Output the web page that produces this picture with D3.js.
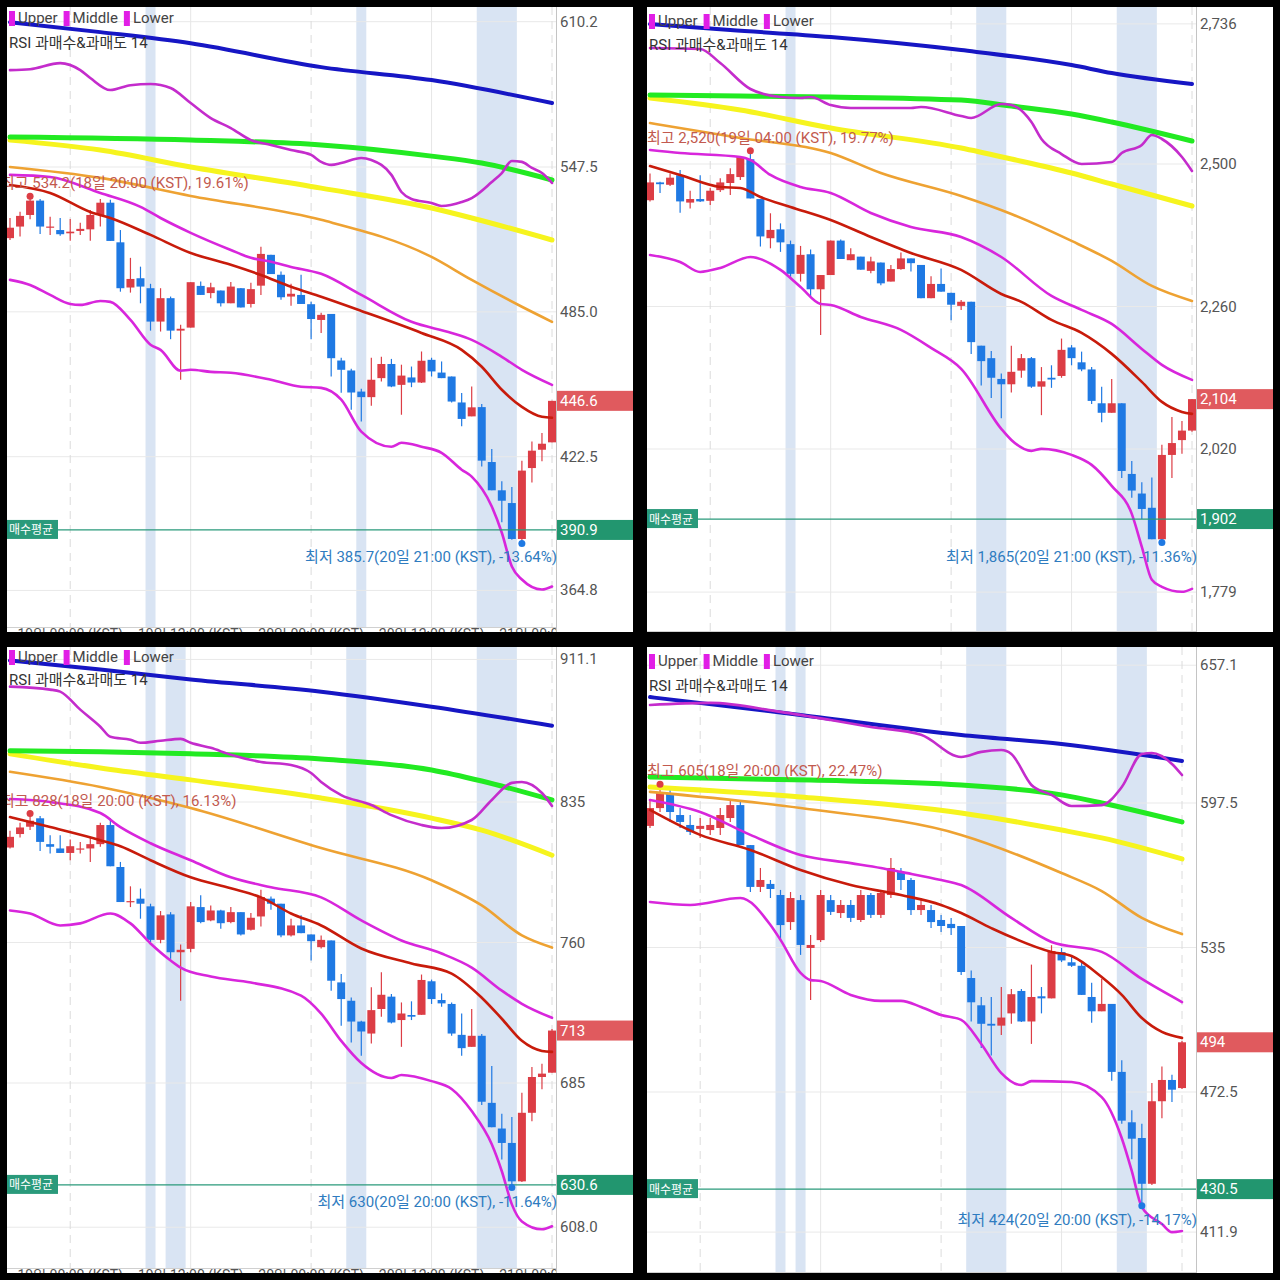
<!DOCTYPE html>
<html><head><meta charset="utf-8">
<script src="https://cdn.jsdelivr.net/npm/d3@7"></script>
<style>body{margin:0;background:#000;}svg{display:block}</style>
</head><body>
<svg id="c" width="1280" height="1280"></svg>
<script>
// ---------------- DATA ----------------
// candles: [open, high, low, close], hourly
const candlesA = [
[516.8,525.5,516.0,521.3],[521.8,528.2,517.5,526.4],[526.8,534.2,525.0,533.0],[533.0,533.7,518.6,521.8],[521.5,526.0,518.2,521.8],
[520.3,525.5,517.8,518.5],[518.9,525.1,515.7,519.6],[519.9,523.4,518.2,520.8],[520.6,529.0,515.7,526.8],[526.8,533.7,521.8,532.1],
[532.1,533.4,515.6,515.6],[515.0,520.3,493.7,495.2],[495.5,508.3,493.3,499.2],[499.5,504.5,488.7,495.9],[495.2,497.1,476.9,480.8],
[480.8,495.2,476.5,490.9],[490.9,491.6,473.2,476.9],[476.9,479.4,455.7,477.7],[478.2,497.8,478.2,497.8],[496.2,498.1,492.3,492.3],
[493.1,497.6,490.9,495.6],[494.2,494.2,487.3,488.7],[488.7,497.9,488.7,495.9],[495.2,495.3,486.9,486.9],[488.4,497.6,486.9,494.8],
[496.3,513.1,492.3,510.0],[509.6,509.6,501.3,501.3],[501.0,502.4,490.2,491.3],[491.6,497.1,487.6,492.8],[492.3,501.0,488.4,488.4],
[488.3,489.4,473.2,481.9],[481.5,484.6,475.9,483.7],[484.1,484.1,457.1,465.0],[464.0,465.2,450.1,460.0],[459.7,460.4,442.8,450.2],
[450.6,451.8,437.7,448.2],[448.2,465.2,444.5,455.7],[456.4,465.6,455.0,462.5],[462.5,464.7,452.5,452.8],[453.5,462.2,440.6,457.5],
[456.7,461.4,452.5,454.5],[454.5,467.9,454.3,463.9],[464.3,465.2,457.1,459.3],[458.8,463.6,456.4,456.4],[457.1,457.1,445.9,446.3],
[445.9,450.0,435.6,438.8],[439.9,452.8,439.9,443.8],[443.9,445.2,418.3,420.8],[420.2,425.8,408.0,408.0],[408.0,411.9,394.2,403.5],
[402.5,409.4,386.7,387.0],[387.0,420.8,385.7,416.5],[417.6,429.1,411.4,425.1],[425.5,432.7,420.5,428.1],[428.7,446.6,428.7,446.6]];
const candlesB = [
[2439,2484,2437,2469],[2469,2470,2451,2466],[2465,2484,2463,2477],[2481,2490,2418,2437],[2435,2455,2425,2441],
[2441,2481,2436,2437],[2438,2460,2431,2455],[2456,2476,2453,2469],[2468,2493,2448,2483],[2478,2513,2473,2512],
[2508,2520,2442,2442],[2441,2441,2361,2378],[2375,2417,2358,2389],[2390,2400,2352,2368],[2365,2371,2310,2315],
[2315,2362,2302,2347],[2348,2356,2277,2289],[2289,2313,2212,2313],[2313,2371,2313,2371],[2371,2373,2340,2340],
[2338,2358,2338,2348],[2344,2344,2322,2322],[2320,2344,2316,2336],[2334,2334,2296,2299],[2302,2330,2302,2323],
[2323,2351,2322,2341],[2341,2341,2319,2333],[2330,2330,2274,2274],[2274,2311,2274,2298],[2298,2324,2285,2285],
[2283,2283,2237,2263],[2261,2271,2254,2268],[2268,2268,2180,2200],[2194,2194,2127,2168],[2173,2185,2106,2140],
[2138,2147,2072,2129],[2129,2194,2115,2150],[2152,2180,2140,2173],[2173,2175,2123,2125],[2125,2158,2077,2134],
[2140,2161,2123,2137],[2143,2206,2140,2187],[2191,2195,2161,2173],[2166,2184,2151,2154],[2154,2158,2096,2101],
[2097,2125,2065,2081],[2081,2138,2081,2097],[2097,2097,1971,1983],[1978,2000,1938,1950],[1945,1964,1902,1919],
[1921,1972,1868,1868],[1868,2027,1865,2010],[2010,2074,1971,2030],[2035,2067,2012,2051],[2051,2104,2049,2104]];
const candlesC = [
[810.7,819.6,810.2,816.4],[817.9,823.9,816.1,821.4],[821.8,828.0,820.0,825.0],[826.3,827.5,808.9,813.7],[812.5,817.3,807.5,811.1],
[810.2,817.3,807.8,807.8],[807.8,815.0,803.9,811.4],[809.7,813.7,807.5,810.2],[810.2,816.1,803.0,812.5],[812.5,823.9,811.1,822.7],
[822.7,826.3,800.7,800.7],[800.3,803.0,781.6,781.6],[781.6,790.0,778.9,782.1],[783.4,788.8,772.7,780.7],[779.3,780.7,760.2,761.4],
[761.4,776.8,759.6,774.5],[775.0,776.2,751.3,754.8],[754.8,758.9,728.9,756.1],[756.6,781.6,754.8,779.3],[778.9,785.2,770.3,770.9],
[771.8,779.8,771.4,777.1],[777.1,777.5,767.3,770.3],[770.9,778.9,770.3,776.2],[776.2,776.2,763.8,764.3],[766.8,775.7,766.4,773.2],
[773.9,788.2,768.6,784.3],[783.4,784.6,777.5,780.7],[780.7,780.7,762.8,763.8],[763.8,772.7,763.2,769.1],[769.1,774.5,765.0,765.0],
[764.3,764.3,750.4,760.7],[757.5,763.8,756.8,761.4],[761.1,761.1,734.3,739.6],[738.7,743.2,715.5,729.8],[728.9,730.7,706.6,717.8],
[717.8,718.2,699.5,712.5],[711.4,736.1,706.1,723.9],[724.5,744.1,720.4,732.1],[731.1,732.5,716.8,717.3],[718.6,728.0,704.3,722.1],
[721.3,728.6,718.6,720.4],[721.4,742.9,721.4,740.0],[739.3,740.2,727.2,729.8],[729.3,732.8,725.7,727.5],[727.2,728.0,710.2,711.4],
[710.7,722.1,699.5,703.6],[704.3,724.5,704.3,710.2],[710.2,711.1,673.2,675.0],[674.4,694.1,661.4,661.4],[660.7,668.6,644.1,653.0],
[653.0,666.8,630.0,632.5],[632.5,679.8,632.1,669.1],[669.1,693.6,664.6,688.2],[688.2,695.3,681.6,690.0],[690.5,713.8,690.5,713.0]];
const candlesD = [
[587.6,598.8,586.7,595.3],[595.3,605.0,593.6,601.8],[601.8,603.1,589.3,593.6],[592.3,595.3,586.7,589.3],[588.0,592.3,583.7,585.0],
[586.3,591.0,582.4,587.6],[585.8,591.0,583.7,588.0],[586.7,595.3,583.7,592.3],[591.0,598.8,589.3,596.6],[596.6,598.8,579.3,579.3],
[579.3,579.3,559.0,561.2],[561.2,569.4,559.0,564.2],[562.5,564.2,556.4,560.3],[557.7,559.9,538.2,544.7],[546.0,559.0,542.6,556.4],
[555.5,557.7,531.8,536.1],[534.8,540.4,512.3,536.1],[538.2,559.9,537.4,557.7],[555.5,557.7,549.1,550.4],[549.9,555.5,547.8,553.4],
[553.4,555.5,546.0,547.8],[546.9,559.9,546.0,557.7],[557.7,558.6,547.8,549.1],[549.1,559.9,547.8,558.6],[557.7,573.7,556.4,569.4],
[567.7,569.4,559.9,564.2],[564.2,565.1,549.1,551.2],[551.2,556.4,549.1,553.4],[551.2,553.4,543.4,546.0],[546.9,549.1,541.7,544.3],
[545.2,547.8,540.4,543.4],[544.3,544.3,523.1,524.4],[521.8,525.0,503.0,511.3],[510.0,513.6,491.5,502.0],[502.0,513.6,488.3,501.2],
[501.2,517.9,497.2,504.7],[506.5,517.1,502.0,514.8],[516.2,517.1,502.8,503.0],[503.0,527.6,493.3,513.6],[513.9,517.9,506.5,513.0],
[513.0,536.0,513.0,533.5],[533.0,534.8,528.7,529.4],[528.6,530.9,526.6,527.1],[527.1,528.3,514.5,514.5],[513.6,519.7,502.4,507.4],
[507.4,521.5,507.4,510.6],[510.6,510.6,477.4,481.2],[481.2,486.2,458.8,460.1],[459.4,464.6,443.4,452.3],[452.6,458.8,424.0,432.8],
[432.8,476.4,432.3,468.5],[468.5,483.5,461.1,477.7],[477.7,480.0,468.2,473.5],[474.2,494.6,473.8,494.0]];

// indicator lines: [candle index, value]
const blueA = [[0,610.0],[9,605.7],[18,600.9],[31,590.6],[42,585.0],[54,575.1]];
const greenA = [[0,560.4],[18,559.1],[31,557.0],[42,552.2],[47,549.2],[54,541.9]];
const yellowA = [[0,559.1],[9,554.8],[18,547.5],[31,538.4],[42,529.8],[46,525.5],[54,516.0]];
const orangeA = [[0,547.5],[9,542.8],[18,535.0],[31,524.7],[42,508.7],[46,498.8],[51,487.2],[54,480.7]];
const middleA = [[0,539.7],[4,536.3],[8,528.1],[10,525.5],[14,518.2],[18,510.4],[22,505.3],[25,500.9],[28,495.8],[31,491.5],[35,485.4],[41,475.9],[45,468.6],[47,461.3],[49,451.4],[51,444.0],[53,439.7],[54,439.3]];
const upperA = [[0,544.1],[4,543.2],[9,536.3],[13,530.3],[15,525.5],[18,519.1],[22,511.7],[24,508.3],[26,506.6],[28,504.4],[31,501.4],[35,492.3],[40,480.7],[44,475.9],[46,472.9],[49,465.6],[51,460.0],[54,453.5]];
const lowerA = [[0,498.8],[2,496.6],[4,492.3],[6,488.4],[7,488.0],[9,489.7],[10,489.3],[12,481.5],[14,470.8],[15,468.6],[17,459.6],[18,460.0],[20,459.1],[22,458.7],[26,455.7],[29,452.7],[31,452.2],[33,447.1],[35,433.3],[38,426.8],[39,428.5],[41,426.8],[43,424.2],[45,416.9],[46,413.9],[48,401.0],[49,389.7],[50,375.1],[51,369.5],[53,365.2],[54,366.5]];
const rsiA = [[0,589.3],[2,589.7],[5,592.3],[7,589.3],[8,585.9],[10,580.7],[12,582.8],[14,583.3],[16,581.6],[18,575.1],[20,568.6],[22,564.3],[24,559.1],[26,557.0],[28,554.8],[30,552.7],[31,549.7],[32,548.4],[33,549.2],[35,551.4],[36,550.5],[38,544.1],[39,536.7],[40,533.7],[42,532.0],[43,530.7],[45,532.4],[46,534.1],[48,541.0],[49,544.9],[50,550.1],[51,549.7],[52,547.1],[53,544.9],[54,540.6]];

const blueB = [[0,2735.7],[8,2725.6],[18,2713.8],[31,2691.9],[42,2666.6],[46,2653.2],[54,2634.7]];
const greenB = [[0,2616.2],[9,2614.5],[18,2612.8],[31,2607.7],[36,2597.6],[42,2584.2],[46,2570.7],[54,2538.7]];
const yellowB = [[0,2611.1],[9,2590.9],[18,2560.6],[31,2526.9],[36,2508.4],[42,2484.8],[46,2466.3],[54,2429.3]];
const orangeB = [[0,2569.0],[9,2543.8],[18,2518.5],[23,2484.8],[31,2446.1],[36,2415.8],[42,2370.4],[46,2336.7],[50,2294.6],[54,2269.4]];
const middleB = [[0,2496.6],[3,2481.5],[7,2461.3],[9,2459.6],[11,2444.4],[14,2427.6],[18,2405.7],[22,2377.1],[26,2350.2],[31,2321.6],[35,2281.1],[37,2267.7],[40,2237.4],[43,2215.5],[46,2180.2],[49,2133.0],[51,2099.3],[53,2082.5],[54,2079.1]];
const upperB = [[0,2523.6],[3,2518.5],[9,2511.8],[10,2506.7],[12,2481.5],[15,2461.3],[18,2451.2],[22,2417.5],[26,2393.9],[31,2377.1],[35,2343.4],[40,2277.8],[43,2254.2],[46,2230.6],[49,2188.6],[51,2161.6],[54,2136.4]];
const lowerB = [[0,2346.8],[3,2335.0],[5,2318.2],[7,2324.9],[10,2343.4],[13,2321.6],[15,2292.9],[17,2264.3],[18,2262.6],[21,2242.4],[25,2220.5],[28,2190.2],[31,2154.9],[35,2053.9],[36,2035.3],[38,2016.9],[39,2020.2],[42,2010.1],[44,1993.3],[46,1957.9],[48,1910.8],[49,1855.2],[50,1799.7],[51,1787.9],[53,1779.5],[54,1784.5]];
const rsiB = [[0,2695.3],[5,2693.6],[7,2670.0],[10,2626.3],[13,2612.8],[15,2611.1],[16,2612.8],[18,2599.3],[20,2594.3],[26,2594.3],[27,2596.0],[31,2580.8],[32,2577.4],[35,2601.0],[36,2599.3],[38,2570.7],[39,2542.1],[41,2516.8],[43,2500.0],[46,2503.4],[47,2518.5],[49,2532.0],[50,2548.8],[51,2542.1],[53,2511.8],[54,2488.2]];

const blueC = [[0,910.5],[9,905.7],[18,900.4],[31,893.9],[42,885.9],[54,875.7]];
const greenC = [[0,862.3],[9,861.8],[18,860.7],[31,858.0],[42,852.1],[47,846.2],[54,836.1]];
const yellowC = [[0,860.7],[9,853.2],[18,846.8],[31,837.1],[42,826.4],[47,820.0],[54,806.6]];
const orangeC = [[0,851.1],[9,843.0],[18,831.8],[31,810.4],[42,793.2],[47,779.8],[51,763.8],[54,757.3]];
const middleC = [[0,827.0],[4,821.6],[9,814.6],[11,811.4],[14,803.9],[18,794.8],[22,788.9],[25,784.1],[28,775.5],[31,769.1],[35,756.8],[40,748.8],[44,743.4],[47,730.5],[49,719.3],[51,707.5],[53,702.1],[54,701.6]];
const upperC = [[0,836.6],[4,835.0],[9,829.1],[11,821.6],[14,813.0],[18,803.9],[22,794.8],[26,789.5],[31,784.1],[35,771.8],[39,761.1],[43,754.1],[46,746.6],[49,734.3],[51,727.3],[54,719.8]];
const lowerC = [[0,777.1],[2,775.5],[5,769.1],[7,770.2],[10,775.5],[12,770.2],[14,759.5],[16,750.4],[17,746.6],[20,741.8],[24,738.6],[29,731.6],[31,722.0],[33,707.5],[35,695.7],[38,687.7],[39,689.3],[42,686.0],[44,681.8],[46,670.0],[48,652.3],[49,637.9],[50,620.2],[51,611.1],[53,606.9],[54,608.5]];
const rsiC = [[0,896.6],[4,895.0],[5,893.9],[7,884.3],[9,875.2],[10,869.8],[12,868.2],[13,866.6],[15,867.7],[17,868.7],[18,866.6],[20,863.9],[22,860.2],[25,856.4],[28,854.8],[30,850.5],[31,845.7],[33,838.7],[36,833.4],[38,828.0],[41,822.7],[43,821.1],[46,825.4],[48,836.1],[50,845.2],[51,845.7],[53,839.8],[54,832.9]];

const blueD = [[0,643.3],[15,635.6],[31,626.9],[41,623.0],[53,615.7]];
const greenD = [[0,608.7],[16,607.4],[31,605.3],[41,601.0],[45,597.5],[53,589.3]];
const yellowD = [[0,604.4],[15,600.1],[31,593.2],[41,585.8],[45,582.4],[53,573.3]];
const orangeD = [[0,602.3],[15,595.3],[31,583.7],[41,567.2],[45,559.4],[49,547.8],[53,540.8]];
const middleD = [[0,594.5],[5,583.7],[10,577.2],[15,568.5],[20,562.0],[25,557.7],[29,553.4],[31,549.9],[34,543.4],[40,533.1],[42,531.3],[45,522.2],[47,514.5],[49,504.5],[51,498.5],[53,495.9]];
const upperD = [[0,598.8],[5,593.6],[10,583.7],[15,575.0],[20,571.5],[23,569.4],[25,567.7],[29,564.2],[31,562.0],[36,547.8],[40,537.4],[45,533.1],[49,521.4],[53,511.4]];
const lowerD = [[0,554.7],[4,553.4],[9,556.4],[12,544.7],[13,538.3],[15,524.0],[16,520.9],[17,520.5],[20,514.5],[23,511.9],[25,511.9],[27,509.3],[29,505.8],[31,503.7],[33,493.3],[35,480.7],[37,475.5],[38,477.2],[42,476.8],[45,470.3],[47,452.5],[48,438.3],[49,422.7],[51,415.4],[52,411.9],[53,412.4]];
const rsiD = [[0,639.9],[6,640.8],[13,636.9],[18,633.4],[22,630.4],[27,627.0],[31,617.4],[33,619.6],[35,620.4],[36,618.7],[38,605.3],[40,601.0],[42,596.2],[45,596.6],[47,604.4],[49,618.7],[50,619.1],[52,614.4],[53,609.6]];

// RSI oversold highlight ranges [fromIndex, toIndex]
const bandsA = [[14,14],[35,35],[47,50]];
const bandsB = [[14,14],[33,35],[47,50]];
const bandsC = [[14,14],[16,17],[34,35],[47,50]];
const bandsD = [[13,13],[15,15],[32,35],[47,49]];

// y-axis labels
const ticksA = [610.2, 547.5, 485.0, 422.5, 364.8];
const tickLabelsA = ['610.2','547.5','485.0','422.5','364.8'];
const ticksB = [2736, 2500, 2260, 2020, 1779];
const tickLabelsB = ['2,736','2,500','2,260','2,020','1,779'];
const ticksC = [911.1, 835, 760, 685, 608.0];
const tickLabelsC = ['911.1','835','760','685','608.0'];
const ticksD = [657.1, 597.5, 535, 472.5, 411.9];
const tickLabelsD = ['657.1','597.5','535','472.5','411.9'];

// average buy price & current price
const avgPrices = [390.9, 1902, 630.6, 430.5];
const avgLabels = ['390.9','1,902','630.6','430.5'];
const curLabels = ['446.6','2,104','713','494'];
const maxTexts = ['최고 534.2(18일 20:00 (KST), 19.61%)','최고 2,520(19일 04:00 (KST), 19.77%)','최고 828(18일 20:00 (KST), 16.13%)','최고 605(18일 20:00 (KST), 22.47%)'];
const minTexts = ['최저 385.7(20일 21:00 (KST), -13.64%)','최저 1,865(20일 21:00 (KST), -11.36%)','최저 630(20일 20:00 (KST), -11.64%)','최저 424(20일 20:00 (KST), -14.17%)'];
const legendNames = ['Upper','Middle','Lower'];
const rsiTitle = 'RSI 과매수&과매도 14';
const firstHour = [18, 18, 18, 19]; // hour of day of first candle (18일)
const xLabelTexts = ['19일 00:00 (KST)','19일 12:00 (KST)','20일 00:00 (KST)','20일 12:00 (KST)','21일 00:00 (KST)'];

// ---------------- LAYOUT ----------------
const FONT = "Roboto, 'Noto Sans CJK KR', 'Noto Sans', sans-serif";
const svg = d3.select('#c');
svg.append('rect').attr('width',1280).attr('height',1280).attr('fill','#000');

const panels = [
  {id:'A', left:7, top:7, right:633, bottom:632, plotBottom:627, axisX:556, x0:10, x1:552,
   anchors:[[547.5,167],[422.5,456.7]], legendY:18, rsiY:43, maxX:1, xLabels:true,
   candles:candlesA, lines:{blue:blueA,green:greenA,yellow:yellowA,orange:orangeA,middle:middleA,upper:upperA,lower:lowerA,rsi:rsiA},
   bands:bandsA, ticks:ticksA, tickLabels:tickLabelsA},
  {id:'B', left:647, top:7, right:1273, bottom:632, plotBottom:631, axisX:1196, x0:650, x1:1192,
   anchors:[[2500,164],[2020,449]], legendY:21, rsiY:45, maxX:647, xLabels:false,
   candles:candlesB, lines:{blue:blueB,green:greenB,yellow:yellowB,orange:orangeB,middle:middleB,upper:upperB,lower:lowerB,rsi:rsiB},
   bands:bandsB, ticks:ticksB, tickLabels:tickLabelsB},
  {id:'C', left:7, top:647, right:633, bottom:1273, plotBottom:1268, axisX:556, x0:10, x1:552,
   anchors:[[835,802],[685,1083]], legendY:657, rsiY:680, maxX:1, xLabels:true,
   candles:candlesC, lines:{blue:blueC,green:greenC,yellow:yellowC,orange:orangeC,middle:middleC,upper:upperC,lower:lowerC,rsi:rsiC},
   bands:bandsC, ticks:ticksC, tickLabels:tickLabelsC},
  {id:'D', left:647, top:647, right:1273, bottom:1273, plotBottom:1272, axisX:1196, x0:650, x1:1182,
   anchors:[[597.5,803],[472.5,1092]], legendY:661, rsiY:686, maxX:647, xLabels:false,
   candles:candlesD, lines:{blue:blueD,green:greenD,yellow:yellowD,orange:orangeD,middle:middleD,upper:upperD,lower:lowerD,rsi:rsiD},
   bands:bandsD, ticks:ticksD, tickLabels:tickLabelsD}
];

const lineStyles = [
  ['orange','#eea232',2.6],['yellow','#f6f41e',5],['green','#22ea22',5],['blue','#1616c4',4],
  ['middle','#c81b0b',2.6],['upper','#d826dc',2.6],['lower','#d826dc',2.6],['rsi','#c42ccc',2.6]
];
const UP = '#dc3d45', DOWN = '#1f79e3', TEAL = '#2a9a7b';
const defs = svg.append('defs');

panels.forEach((p, pi) => {
  const n = p.candles.length;
  const x = d3.scaleLinear().domain([0, n-1]).range([p.x0, p.x1]);
  const y = d3.scaleLinear().domain([p.anchors[0][0], p.anchors[1][0]]).range([p.anchors[0][1], p.anchors[1][1]]);
  defs.append('clipPath').attr('id','clip'+p.id).append('rect')
    .attr('x',p.left).attr('y',p.top).attr('width',p.right-p.left).attr('height',p.bottom-p.top);
  defs.append('clipPath').attr('id','plot'+p.id).append('rect')
    .attr('x',p.left).attr('y',p.top).attr('width',p.axisX-p.left).attr('height',p.bottom-p.top);
  const g = svg.append('g').attr('clip-path',`url(#clip${p.id})`);
  g.append('rect').attr('x',p.left).attr('y',p.top).attr('width',p.right-p.left).attr('height',p.bottom-p.top).attr('fill','#fff');
  const plot = g.append('g').attr('clip-path',`url(#plot${p.id})`);

  // bands
  p.bands.forEach(([a,b]) => {
    plot.append('rect').attr('x', x(a)-5).attr('width', x(b)-x(a)+10)
      .attr('y', p.top).attr('height', p.plotBottom-p.top).attr('fill','#d9e4f3');
  });
  // horizontal grid
  p.ticks.forEach(t => {
    plot.append('line').attr('x1',p.left).attr('x2',p.axisX).attr('y1',y(t)).attr('y2',y(t))
      .attr('stroke','#e9e9e9').attr('stroke-width',1);
  });
  // vertical grid
  for (let i=0;i<n;i++){
    const h = (firstHour[pi]+i)%24;
    if (h%12===0){
      const ln = plot.append('line').attr('x1',x(i)).attr('x2',x(i)).attr('y1',p.top).attr('y2',p.plotBottom)
        .attr('stroke', h===0 ? '#dcdcdc' : '#e6e6e6').attr('stroke-width',1);
      if (h===0) ln.attr('stroke-dasharray','8,6');
    }
  }
  // plot bottom line
  g.append('line').attr('x1',p.left).attr('x2',p.axisX).attr('y1',p.plotBottom+0.5).attr('y2',p.plotBottom+0.5).attr('stroke','#d0d0d0');
  // axis line
  g.append('line').attr('x1',p.axisX+0.5).attr('x2',p.axisX+0.5).attr('y1',p.top).attr('y2',p.bottom).attr('stroke','#c4c4c4');

  // legend
  let lx = p.left + 2;
  legendNames.forEach(nm => {
    g.append('rect').attr('x',lx).attr('y',p.legendY-7).attr('width',6).attr('height',15).attr('fill','#e11ee6');
    const t = g.append('text').attr('x',lx+9).attr('y',p.legendY+5).text(nm)
      .attr('font-family',FONT).attr('font-size',15).attr('fill','#444');
    lx += 9 + t.node().getComputedTextLength() + 6;
  });
  g.append('text').attr('x',p.left+2).attr('y',p.rsiY+5).text(rsiTitle)
    .attr('font-family',FONT).attr('font-size',15).attr('fill','#333');

  // max / min annotations
  const iMax = d3.maxIndex(p.candles, d=>d[1]);
  const iMin = d3.minIndex(p.candles, d=>d[2]);
  const yMax = y(p.candles[iMax][1]) - 1.5;
  const yMin = y(p.candles[iMin][2]) + 1.5;
  g.append('text').attr('x',p.maxX).attr('y',yMax-8).text(maxTexts[pi])
    .attr('font-family',FONT).attr('font-size',15).attr('fill','#c25a4f');
  g.append('text').attr('x',p.axisX+1).attr('y',yMin+19).attr('text-anchor','end').text(minTexts[pi])
    .attr('font-family',FONT).attr('font-size',15).attr('fill','#2f7cc0');

  // candles
  const cg = plot.append('g');
  p.candles.forEach((d,i) => {
    const [o,h,l,c] = d;
    const col = c >= o ? UP : DOWN;
    cg.append('line').attr('x1',x(i)).attr('x2',x(i)).attr('y1',y(h)).attr('y2',y(l)).attr('stroke',col).attr('stroke-width',1.2);
    const top = y(Math.max(o,c)), bot = y(Math.min(o,c));
    cg.append('rect').attr('x',x(i)-4).attr('width',8).attr('y',top).attr('height',Math.max(1.2, bot-top)).attr('fill',col);
  });

  // indicator lines
  const lineGen = d3.line().x(d=>x(d[0])).y(d=>y(d[1])).curve(d3.curveMonotoneX);
  lineStyles.forEach(([k,col,w]) => {
    plot.append('path').attr('d', lineGen(p.lines[k])).attr('fill','none').attr('stroke',col)
      .attr('stroke-width',w).attr('stroke-linejoin','round').attr('stroke-linecap','round');
  });

  // average buy price line
  const ya = y(avgPrices[pi]);
  plot.append('line').attr('x1',p.left).attr('x2',p.axisX).attr('y1',ya).attr('y2',ya).attr('stroke',TEAL).attr('stroke-width',1.3);
  g.append('rect').attr('x',p.left).attr('y',ya-10).attr('width',51).attr('height',19).attr('fill',TEAL);
  g.append('text').attr('x',p.left+2).attr('y',ya+4.5).text('매수평균')
    .attr('font-family',FONT).attr('font-size',12).attr('fill','#fff');

  // max / min dots
  g.append('circle').attr('cx',x(iMax)).attr('cy',yMax).attr('r',3.5).attr('fill',UP);
  g.append('circle').attr('cx',x(iMin)).attr('cy',yMin).attr('r',3.5).attr('fill',DOWN);

  // y labels
  p.ticks.forEach((t,k) => {
    g.append('text').attr('x',p.axisX+4).attr('y',y(t)+5).text(p.tickLabels[k])
      .attr('font-family',FONT).attr('font-size',15).attr('fill','#555');
  });
  // current price tag
  const yc = y(p.candles[n-1][3]);
  g.append('rect').attr('x',p.axisX+1).attr('y',yc-10).attr('width',p.right-p.axisX-1).attr('height',20).attr('fill','#e05a5e');
  g.append('text').attr('x',p.axisX+4).attr('y',yc+5).text(curLabels[pi])
    .attr('font-family',FONT).attr('font-size',15).attr('fill','#fff');
  // avg price tag
  g.append('rect').attr('x',p.axisX+1).attr('y',ya-10).attr('width',p.right-p.axisX-1).attr('height',20).attr('fill','#22966f');
  g.append('text').attr('x',p.axisX+4).attr('y',ya+5).text(avgLabels[pi])
    .attr('font-family',FONT).attr('font-size',15).attr('fill','#fff');

  // x labels (cut by the panel's bottom edge, as in the screenshot)
  if (p.xLabels){
    let k = 0;
    for (let i=0;i<n;i++){
      const h = (firstHour[pi]+i)%24;
      if (h%12===0 && k < xLabelTexts.length){
        plot.append('text').attr('x',x(i)).attr('y',p.plotBottom+12).attr('text-anchor','middle')
          .text(xLabelTexts[k++]).attr('font-family',FONT).attr('font-size',14).attr('fill','#555');
      }
    }
  }
});
</script>
</body></html>
